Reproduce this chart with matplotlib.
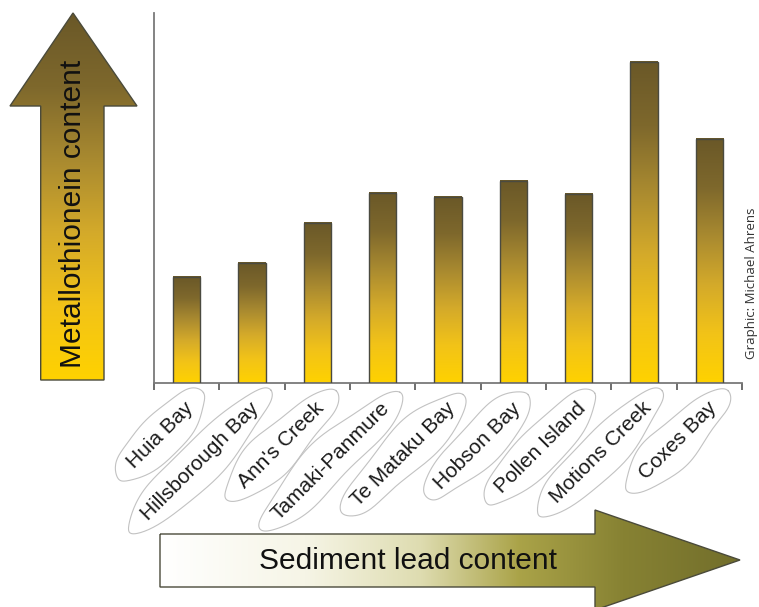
import numpy as np
import matplotlib
matplotlib.use("Agg")
import matplotlib.pyplot as plt
from matplotlib.colors import LinearSegmentedColormap
from matplotlib.patches import Polygon
from matplotlib.transforms import offset_copy

# ---- data ----
sites = ["Huia Bay", "Hillsborough Bay", "Ann's Creek", "Tamaki-Panmure",
         "Te Mataku Bay", "Hobson Bay", "Pollen Island", "Motions Creek", "Coxes Bay"]
metallothionein = [106.6, 120.3, 160.3, 190.6, 186.6, 202.3, 189.3, 321.0, 244.0]
y_max = 370.3
y_title = "Metallothionein content"
x_title = "Sediment lead content"
credit = "Graphic: Michael Ahrens"

plt.rcParams['font.family'] = ['Liberation Sans', 'DejaVu Sans']

W, H = 759, 607
fig = plt.figure(figsize=(W / 100, H / 100), dpi=100)
fig.patch.set_facecolor('white')

# decoration layer in pixel coordinates (y up)
bg = fig.add_axes([0, 0, 1, 1], zorder=0)
bg.set_xlim(0, W)
bg.set_ylim(0, H)
bg.axis('off')

def py(y):
    return H - y

bar_cmap = LinearSegmentedColormap.from_list(
    "gold", ["#ffd200", "#f2c318", "#d4aa2a", "#a98a30", "#7e682c", "#6a5828"])
lead_cmap = LinearSegmentedColormap.from_list(
    "lead", [(0.0, "#ffffff"), (0.25, "#f6f5e6"), (0.45, "#dedcb0"),
             (0.62, "#aaa348"), (0.8, "#878233"), (1.0, "#726e2b")])

# left arrow (Metallothionein)
left_pts = [(40.7, 380), (104, 380), (104, 106), (137, 106), (73, 13), (10, 106), (40.7, 106)]
left_poly = Polygon([(x, py(y)) for x, y in left_pts], closed=True,
                    facecolor='none', edgecolor='#4a4a3a', lw=1.0, zorder=3)
bg.add_patch(left_poly)
g = np.linspace(0, 1, 256).reshape(-1, 1)
im = bg.imshow(g, extent=(10, 137, py(380), py(13)), origin='lower',
               cmap=bar_cmap, aspect='auto', zorder=2, interpolation='bilinear')
im.set_clip_path(left_poly)
bg.text(73, py(214), y_title, rotation=90, ha='center', va='center',
        fontsize=21.5, color='#111111', zorder=4)

# bottom arrow (Sediment lead)
bot_pts = [(160, 534), (595, 534), (595, 510), (740, 560), (595, 610), (595, 587), (160, 587)]
bot_poly = Polygon([(x, py(y)) for x, y in bot_pts], closed=True,
                   facecolor='none', edgecolor='#4a4a3a', lw=1.0, zorder=3)
bg.add_patch(bot_poly)
g2 = np.linspace(0, 1, 256).reshape(1, -1)
im2 = bg.imshow(g2, extent=(160, 740, py(612), py(510)), origin='lower',
                cmap=lead_cmap, aspect='auto', zorder=2, interpolation='bilinear')
im2.set_clip_path(bot_poly)
bg.text(408, py(561), x_title, ha='center', va='center',
        fontsize=21.5, color='#111111', zorder=4)

# credit
bg.text(752, py(283), credit, rotation=90, ha='center', va='center',
        fontsize=9.5, color='#333333', family=['Open Sans', 'DejaVu Sans'], zorder=4)
bg.set_xlim(0, W)
bg.set_ylim(0, H)

# ---- main chart ----
ax = fig.add_axes([154 / W, 1 - 383.3 / H, (742 - 154) / W, (383.3 - 13) / H], zorder=1)
ax.patch.set_alpha(0)
x = np.arange(len(sites))
bw = 0.42
bars = ax.bar(x, metallothionein, width=bw, facecolor='none',
              edgecolor='#4a4a40', linewidth=1.0, zorder=3)
for b in bars:
    bx0 = b.get_x()
    bh = b.get_height()
    ax.imshow(g, extent=(bx0, bx0 + bw, 0, bh), origin='lower', cmap=bar_cmap,
              aspect='auto', zorder=2, interpolation='bilinear')
ax.set_xlim(-0.5, len(sites) - 0.5)
ax.set_ylim(0, y_max)
ax.set_aspect('auto')

for s in ['top', 'right']:
    ax.spines[s].set_visible(False)
for s in ['left', 'bottom']:
    ax.spines[s].set_color('#7a7a7a')
    ax.spines[s].set_linewidth(1.3)
ax.set_yticks([])
ax.set_xticks(np.arange(len(sites) + 1) - 0.5)
ax.set_xticklabels([])
ax.tick_params(axis='x', direction='out', length=5, width=1.2, color='#555555')

lab_tr = offset_copy(ax.get_xaxis_transform(), fig=fig, x=4, y=-22, units='dots')
labels = []
for i, name in enumerate(sites):
    t = ax.text(i, 0, name, transform=lab_tr, rotation=45, rotation_mode='anchor',
                ha='right', va='center', fontsize=15, color='#1a1a1a', zorder=5)
    labels.append(t)

# hand-drawn style outline loops around labels (decorative)
fig.canvas.draw()
r = fig.canvas.get_renderer()
theta = np.linspace(0, 2 * np.pi, 240)
ang = np.deg2rad(45)
for k, t in enumerate(labels):
    bb = t.get_window_extent(r)
    cx, cy = (bb.x0 + bb.x1) / 2, (bb.y0 + bb.y1) / 2
    L = bb.width * np.sqrt(2) - 17
    a = (L + 34) / 2
    bmin = 22
    wob = 1 + 0.10 * np.sin(3 * theta + k) + 0.06 * np.sin(5 * theta + 2 * k)
    u = a * np.cos(theta) * (1 + 0.04 * np.sin(2 * theta + k))
    v = bmin * np.sin(theta) * wob
    xs = cx + u * np.cos(ang) - v * np.sin(ang)
    ys = cy + u * np.sin(ang) + v * np.cos(ang)
    bg.plot(xs, ys, color='#c2c2c2', lw=0.8, zorder=1)
bg.set_xlim(0, W)
bg.set_ylim(0, H)

fig.savefig("out.png", dpi=100)
